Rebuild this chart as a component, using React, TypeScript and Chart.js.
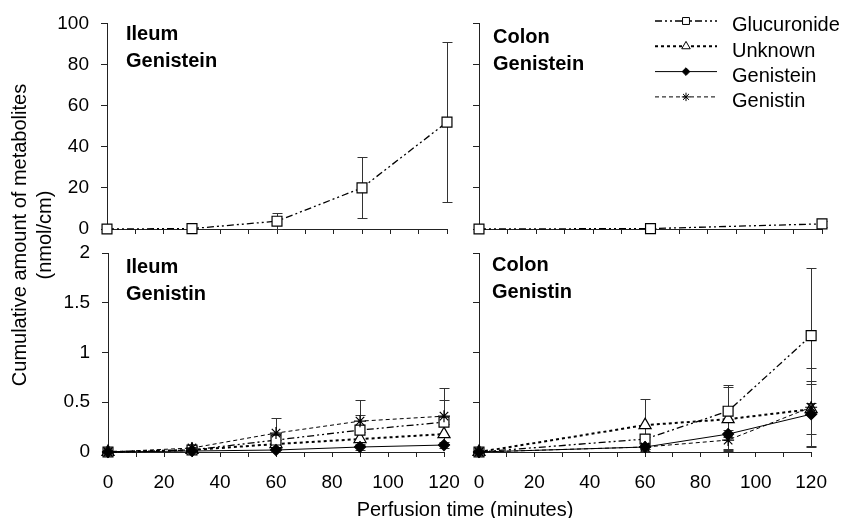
import React, { useEffect, useRef } from 'react';
import { Chart, registerables } from 'chart.js';
import { drawPoint } from 'chart.js/helpers';

Chart.register(...registerables);

const W = 841;
const H = 518;
const FONT = "'Liberation Sans', Arial, sans-serif";
const AXIS = '#222';

const seriesNames = ['Glucuronide', 'Unknown', 'Genistein', 'Genistin'];

// Ileum, genistein perfused (nmol/cm)
const ileumGenisteinTimes = [0, 30, 60, 90, 120];
const ileumGenisteinGlucuronide = [0, 0.2, 3.8, 20, 52];
const ileumGenisteinGlucuronideSd = [0, 0.3, 4.2, 14.8, 39];

// Colon, genistein perfused
const colonGenisteinTimes = [0, 60, 120];
const colonGenisteinGlucuronide = [0, 0.2, 2.5];
const colonGenisteinGlucuronideSd = [0, 0.4, 1.6];

// Ileum, genistin perfused
const ileumGenistinTimes = [0, 30, 60, 90, 120];
const ileumGenistinGlucuronide = [0, 0.02, 0.12, 0.22, 0.3];
const ileumGenistinGlucuronideSd = [0, 0.01, 0.06, 0.15, 0.22];
const ileumGenistinUnknown = [0, 0.02, 0.08, 0.13, 0.18];
const ileumGenistinUnknownSd = [0, 0.01, 0.04, 0.07, 0.1];
const ileumGenistinGenistein = [0, 0.01, 0.02, 0.05, 0.07];
const ileumGenistinGenisteinSd = [0, 0.01, 0.02, 0.03, 0.03];
const ileumGenistinGenistin = [0, 0.04, 0.19, 0.31, 0.36];
const ileumGenistinGenistinSd = [0, 0.02, 0.15, 0.21, 0.28];

// Colon, genistin perfused
const colonGenistinTimes = [0, 60, 90, 120];
const colonGenistinGlucuronide = [0, 0.13, 0.41, 1.17];
const colonGenistinGlucuronideSd = [0, 0.05, 0.26, 0.68];
const colonGenistinUnknown = [0, 0.27, 0.33, 0.43];
const colonGenistinUnknownSd = [0, 0.26, 0.32, 0.25];
const colonGenistinGenistein = [0, 0.05, 0.18, 0.38];
const colonGenistinGenisteinSd = [0, 0.02, 0.15, 0.33];
const colonGenistinGenistin = [0, 0.05, 0.12, 0.45];
const colonGenistinGenistinSd = [0, 0.02, 0.1, 0.39];

// Drawing order: lower value is painted on top
const seriesStyles = [
  { dash: [7, 3, 2, 3, 2, 3], width: 1.3, point: 'rect', radius: 7, fill: '#fff', order: 2 },
  { dash: [3, 3], width: 2, point: 'triangle', radius: 7, fill: '#fff', order: 3 },
  { dash: [] as number[], width: 1, point: 'rectRot', radius: 5.5, fill: '#000', order: 0 },
  { dash: [4, 3], width: 1, point: 'star', radius: 6, fill: '#000', order: 1 },
];

type Series = { idx: number; t: number[]; v: number[]; sd: number[] };
type Panel = {
  title: string[];
  titleX: number;
  titleY: number;
  area: { l: number; r: number; t: number; b: number };
  yMax: number;
  yStep: number;
  xLabels: boolean;
  yLabels: boolean;
  legend: boolean;
  series: Series[];
};

const panels: Panel[] = [
  {
    title: ['Ileum', 'Genistein'], titleX: 126, titleY: 20,
    area: { l: 107, r: 447, t: 21, b: 229 }, yMax: 100, yStep: 20,
    xLabels: false, yLabels: true, legend: false,
    series: [{ idx: 0, t: ileumGenisteinTimes, v: ileumGenisteinGlucuronide, sd: ileumGenisteinGlucuronideSd }],
  },
  {
    title: ['Colon', 'Genistein'], titleX: 493, titleY: 23,
    area: { l: 479, r: 822, t: 21, b: 229 }, yMax: 100, yStep: 20,
    xLabels: false, yLabels: false, legend: true,
    series: [{ idx: 0, t: colonGenisteinTimes, v: colonGenisteinGlucuronide, sd: colonGenisteinGlucuronideSd }],
  },
  {
    title: ['Ileum', 'Genistin'], titleX: 126, titleY: 253,
    area: { l: 108, r: 444, t: 253, b: 452 }, yMax: 2, yStep: 0.5,
    xLabels: true, yLabels: true, legend: false,
    series: [
      { idx: 0, t: ileumGenistinTimes, v: ileumGenistinGlucuronide, sd: ileumGenistinGlucuronideSd },
      { idx: 1, t: ileumGenistinTimes, v: ileumGenistinUnknown, sd: ileumGenistinUnknownSd },
      { idx: 2, t: ileumGenistinTimes, v: ileumGenistinGenistein, sd: ileumGenistinGenisteinSd },
      { idx: 3, t: ileumGenistinTimes, v: ileumGenistinGenistin, sd: ileumGenistinGenistinSd },
    ],
  },
  {
    title: ['Colon', 'Genistin'], titleX: 492, titleY: 251,
    area: { l: 479, r: 820, t: 253, b: 452 }, yMax: 2, yStep: 0.5,
    xLabels: true, yLabels: false, legend: false,
    series: [
      { idx: 0, t: colonGenistinTimes, v: colonGenistinGlucuronide, sd: colonGenistinGlucuronideSd },
      { idx: 1, t: colonGenistinTimes, v: colonGenistinUnknown, sd: colonGenistinUnknownSd },
      { idx: 2, t: colonGenistinTimes, v: colonGenistinGenistein, sd: colonGenistinGenisteinSd },
      { idx: 3, t: colonGenistinTimes, v: colonGenistinGenistin, sd: colonGenistinGenistinSd },
    ],
  },
];

// Vertical error bars (mean ± SD) drawn beneath the lines and markers
const errorBars = {
  id: 'errorBars',
  beforeDatasetsDraw(chart: any) {
    const { ctx } = chart;
    const xs = chart.scales.x;
    const ys = chart.scales.y;
    ctx.save();
    ctx.strokeStyle = '#333';
    ctx.lineWidth = 1;
    ctx.setLineDash([]);
    chart.data.datasets.forEach((ds: any) => {
      (ds.data as { x: number; y: number }[]).forEach((p, i) => {
        const e = ds.sd[i];
        if (!e) return;
        const px = Math.round(xs.getPixelForValue(p.x)) + 0.5;
        const top = Math.round(ys.getPixelForValue(p.y + e)) + 0.5;
        const bot = Math.round(ys.getPixelForValue(Math.max(0, p.y - e))) + 0.5;
        ctx.beginPath();
        ctx.moveTo(px, top);
        ctx.lineTo(px, bot);
        ctx.moveTo(px - 5, top);
        ctx.lineTo(px + 5, top);
        ctx.moveTo(px - 5, bot);
        ctx.lineTo(px + 5, bot);
        ctx.stroke();
      });
    });
    ctx.restore();
  },
};

// Legend in the upper right: line sample, marker, series name
const seriesLegend = {
  id: 'seriesLegend',
  afterDraw(chart: any) {
    const ctx = chart.ctx as CanvasRenderingContext2D;
    ctx.save();
    seriesNames.forEach((name, i) => {
      const st = seriesStyles[i];
      const y = 21 + i * 25.3;
      ctx.strokeStyle = '#000';
      ctx.lineWidth = st.width;
      ctx.setLineDash(st.dash);
      ctx.beginPath();
      ctx.moveTo(655, y);
      ctx.lineTo(717, y);
      ctx.stroke();
      ctx.setLineDash([]);
      ctx.fillStyle = st.fill;
      ctx.lineWidth = 1;
      drawPoint(ctx, { pointStyle: st.point, radius: st.radius * 0.7, rotation: 0, borderWidth: 1 } as any, 686, y);
      ctx.fillStyle = '#000';
      ctx.font = `20px ${FONT}`;
      ctx.textBaseline = 'alphabetic';
      ctx.textAlign = 'left';
      ctx.fillText(name, 732, y + 10.4);
    });
    ctx.restore();
  },
};

function PanelChart({ panel }: { panel: Panel }) {
  const ref = useRef<HTMLCanvasElement>(null);
  useEffect(() => {
    const YW = 60;
    const XH = 40;
    const a = panel.area;
    const chart = new Chart(ref.current!, {
      type: 'line',
      data: {
        datasets: panel.series.map((s) => {
          const st = seriesStyles[s.idx];
          return {
            label: seriesNames[s.idx],
            data: s.t.map((t, i) => ({ x: t, y: s.v[i] })),
            sd: s.sd,
            order: st.order,
            borderColor: '#000',
            borderWidth: st.width,
            borderDash: st.dash,
            pointStyle: st.point,
            pointRadius: st.radius,
            pointBackgroundColor: st.fill,
            pointBorderColor: '#000',
            pointBorderWidth: 1.2,
            tension: 0,
            fill: false,
            clip: false,
          } as any;
        }),
      },
      options: {
        responsive: false,
        animation: false,
        events: [],
        layout: {
          autoPadding: false,
          padding: { left: a.l - YW, right: W - a.r, top: a.t, bottom: H - a.b - XH },
        },
        plugins: { legend: { display: false }, tooltip: { enabled: false } },
        scales: {
          x: {
            type: 'linear',
            min: 0,
            max: 120,
            afterFit: (s: any) => { s.height = XH; },
            border: { display: true, color: AXIS, width: 1 },
            grid: { drawOnChartArea: false, drawTicks: true, tickLength: 5, color: AXIS, lineWidth: 1 },
            ticks: {
              stepSize: 10,
              autoSkip: false,
              maxRotation: 0,
              padding: 14,
              color: '#000',
              font: { family: FONT, size: 19 },
              callback: (v: any) => (panel.xLabels && Number(v) % 20 === 0 ? String(v) : ''),
            },
          },
          y: {
            type: 'linear',
            min: 0,
            max: panel.yMax,
            afterFit: (s: any) => { s.width = YW; },
            border: { display: true, color: AXIS, width: 1 },
            grid: { drawOnChartArea: false, drawTicks: true, tickLength: 6, color: AXIS, lineWidth: 1 },
            ticks: {
              stepSize: panel.yStep,
              padding: 12,
              color: '#000',
              font: { family: FONT, size: 19 },
              callback: (v: any) => (panel.yLabels ? String(v) : ''),
            },
          },
        },
      } as any,
      plugins: panel.legend ? [errorBars, seriesLegend] : [errorBars],
    });
    return () => chart.destroy();
  }, [panel]);
  return (
    <canvas
      ref={ref}
      width={W}
      height={H}
      style={{ position: 'absolute', left: 0, top: 0, width: W, height: H }}
    />
  );
}

export default function App() {
  return (
    <div style={{ position: 'absolute', left: 0, top: 0, width: W, height: H, background: '#fff', overflow: 'hidden', fontFamily: FONT, color: '#000' }}>
      {panels.map((p, i) => (
        <PanelChart key={i} panel={p} />
      ))}
      {panels.map((p, i) => (
        <div
          key={'t' + i}
          style={{ position: 'absolute', left: p.titleX, top: p.titleY, fontSize: 20, fontWeight: 'bold', lineHeight: '26.5px', whiteSpace: 'nowrap' }}
        >
          {p.title[0]}
          <br />
          {p.title[1]}
        </div>
      ))}
      <div
        style={{
          position: 'absolute', left: 32 - 200, top: 234.5 - 25, width: 400, height: 50,
          transform: 'rotate(-90deg)', textAlign: 'center', fontSize: 20, lineHeight: '25px', whiteSpace: 'nowrap',
        }}
      >
        Cumulative amount of metabolites
        <br />
        (nmol/cm)
      </div>
      <div
        style={{ position: 'absolute', left: 265, top: 497, width: 400, textAlign: 'center', fontSize: 20, lineHeight: '24px', whiteSpace: 'nowrap' }}
      >
        Perfusion time (minutes)
      </div>
    </div>
  );
}
